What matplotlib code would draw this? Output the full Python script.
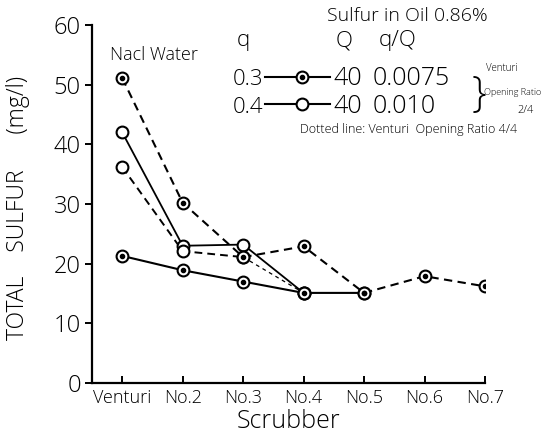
import numpy as np
import matplotlib
matplotlib.use("Agg")
import matplotlib.pyplot as plt

plt.rcParams['font.family'] = ['Open Sans', 'DejaVu Sans']
plt.rcParams['font.weight'] = 'light'
plt.rcParams['axes.labelweight'] = 'light'

# Total sulfur in the wash water after each scrubber stage
stages = ['Venturi', 'No.2', 'No.3', 'No.4', 'No.5', 'No.6', 'No.7']

# q = 0.3, opening ratio 4/4 (dotted)
s03_full = [51.1, 30.2, 21.1, 22.9, 15.1, 17.9, 16.2]
# q = 0.3, opening ratio 2/4 (solid)
s03_half = [21.3, 18.9, 17.0, 15.1, 15.1]
# q = 0.4, opening ratio 2/4 (solid)
s04_half = [42.0, 23.0, 23.2, 15.1]
# q = 0.4, opening ratio 4/4 (dotted)
s04_full = [36.2, 22.1, 21.1, 15.1]

yticks = [0, 10, 20, 30, 40, 50, 60]

W, H = 541, 440
fig = plt.figure(figsize=(W/100, H/100), dpi=100)
ax = fig.add_axes([92/W, 57/H, 393/W, 358/H])

def fx(x, y):
    # pixel position -> figure fraction
    return x/W, 1 - y/H

dash = (0, (4, 2.6))
ms = 8.5
mew = 1.5

def series(vals, ls, lw, dotted):
    x = np.arange(len(vals))
    ax.plot(x, vals, color='black', linestyle=ls, lw=lw, zorder=2)
    ax.plot(x, vals, 'o', ms=ms, mfc='white', mec='black', mew=mew, zorder=3)
    if dotted:
        ax.plot(x, vals, 'o', ms=3.0, color='black', zorder=4)

series(s04_half, '-', 1.3, False)
# last leg of the 4/4 run is a finer dotted line
x4 = np.arange(len(s04_full))
ax.plot(x4[:3], s04_full[:3], color='black', linestyle=dash, lw=1.4, zorder=2)
ax.plot(x4[2:], s04_full[2:], color='black', linestyle=(0, (3, 3)), lw=0.9, zorder=2)
ax.plot(x4, s04_full, 'o', ms=ms, mfc='white', mec='black', mew=mew, zorder=3)
series(s03_half, '-', 1.5, True)
series(s03_full, dash, 1.5, True)

ax.set_xlim(-0.5, 6)
ax.set_ylim(0, 60)
ax.set_xticks(np.arange(len(stages)))
ax.set_xticklabels(stages)
ax.set_yticks(yticks)
for s in ['top', 'right']:
    ax.spines[s].set_visible(False)
for s in ['left', 'bottom']:
    ax.spines[s].set_linewidth(1.6)
ax.tick_params(axis='x', direction='in', length=5, width=1.4, labelsize=13, pad=4)
ax.tick_params(axis='y', direction='out', length=5, width=1.4, labelsize=17, pad=3)

ax.set_xlabel('Scrubber', fontsize=18, labelpad=2)
ax.set_ylabel('TOTAL    SULFUR      (mg/l)', fontsize=16.5)
ax.yaxis.set_label_coords(-0.158, 0.49)

# header and legend table
fig.text(*fx(327, 21), 'Sulfur in Oil 0.86%', fontsize=14, va='baseline')
fig.text(*fx(110, 60), 'Nacl Water', fontsize=13, va='baseline')
fig.text(*fx(243, 46), 'q', fontsize=16, va='baseline', ha='center')
fig.text(*fx(344, 46), 'Q', fontsize=16, va='baseline', ha='center')
fig.text(*fx(398, 46), 'q/Q', fontsize=16, va='baseline', ha='center')

rows = [(77, 85, '0.3', '0.0075', True), (104, 113, '0.4', '0.010', False)]
for ym, yb, q, qq, dotted in rows:
    fig.text(*fx(263, yb), q, fontsize=16, va='baseline', ha='right')
    lx0, ly = fx(265, ym)
    lx1, _ = fx(330, ym)
    mx, _ = fx(302, ym)
    ax.plot([lx0, lx1], [ly, ly], color='black', lw=1.5,
            transform=fig.transFigure, clip_on=False)
    ax.plot([mx], [ly], 'o', ms=ms, mfc='white', mec='black', mew=mew,
            transform=fig.transFigure, clip_on=False)
    if dotted:
        ax.plot([mx], [ly], 'o', ms=3.0, color='black',
                transform=fig.transFigure, clip_on=False)
    fig.text(*fx(333, yb), '40', fontsize=18, va='baseline')
    fig.text(*fx(373, yb), qq, fontsize=18, va='baseline')

fig.text(*fx(479, 95), '}', fontsize=30, va='center', ha='center')
fig.text(*fx(486, 71), 'Venturi', fontsize=7, va='baseline')
fig.text(*fx(484, 95), 'Opening Ratio', fontsize=6.5, va='baseline')
fig.text(*fx(517, 113), '2/4', fontsize=8, va='baseline')
fig.text(*fx(300, 133), 'Dotted line: Venturi  Opening Ratio 4/4',
         fontsize=9, va='baseline')

plt.savefig('out.png', dpi=100)
plt.close()
